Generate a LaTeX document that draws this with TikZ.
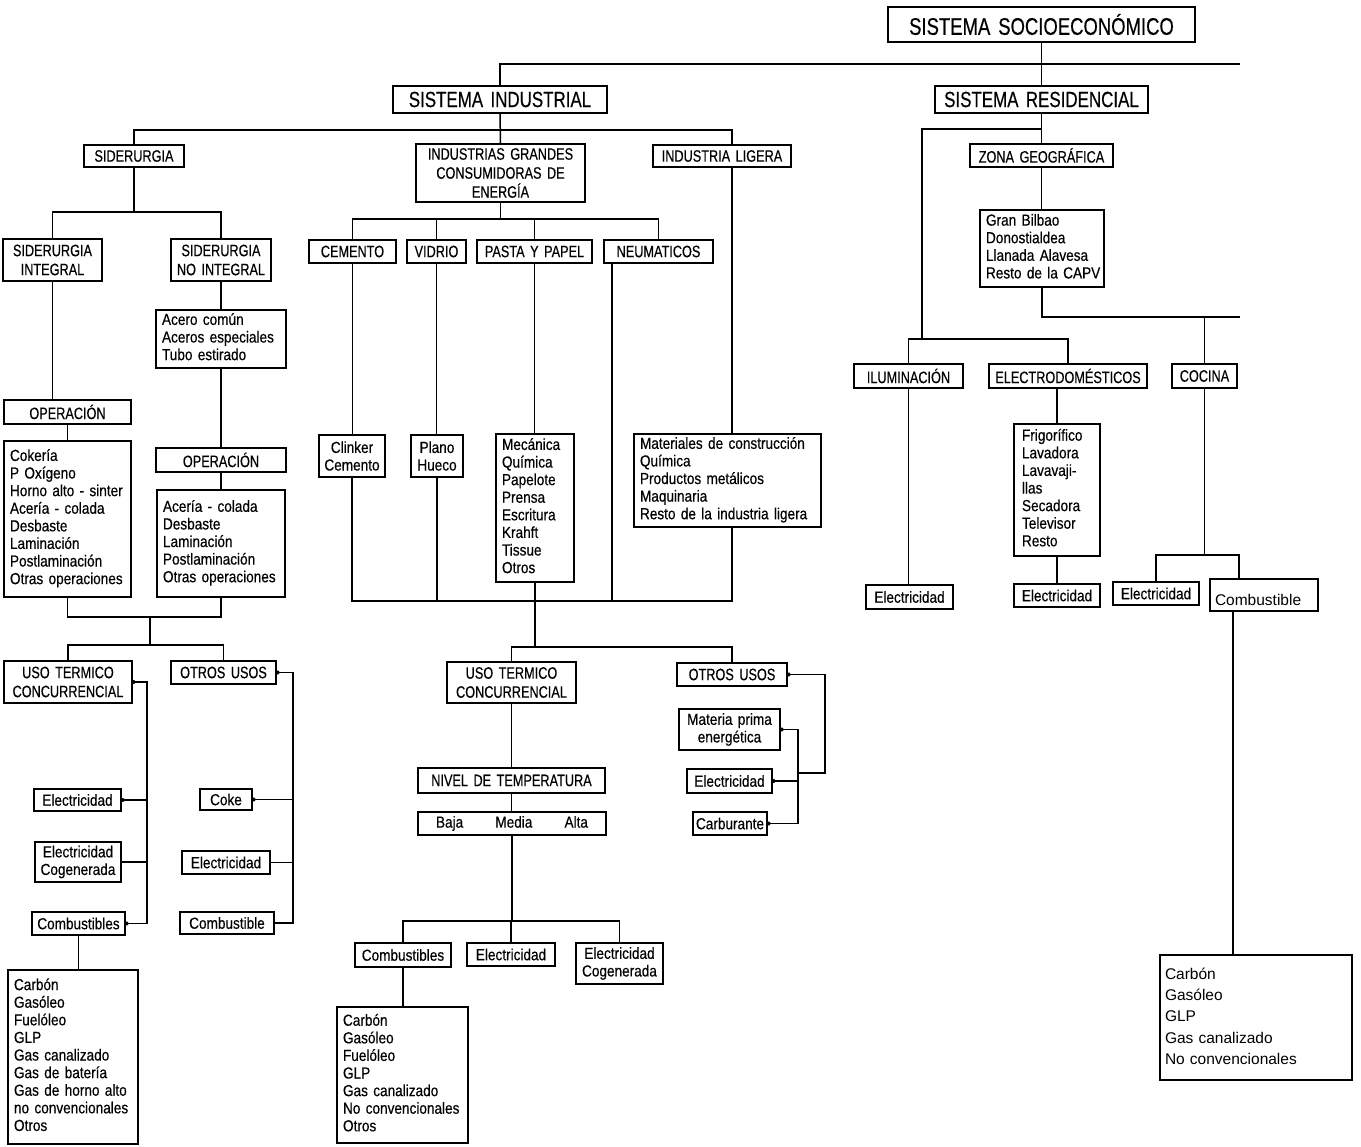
\documentclass[tikz,border=0pt]{standalone}
\usepackage{fontspec}
\setmainfont{Liberation Sans}[FakeStretch=0.85,FakeBold=0.4]
\newfontfamily\capf{Liberation Sans}[FakeStretch=0.77,FakeBold=0.4]
\newfontfamily\arialf{Liberation Sans}
\usetikzlibrary{arrows.meta}

\tikzset{
  wire/.style={line width=1.5pt, line join=miter},
  tbox/.style={draw, line width=1.5pt, inner sep=0pt, outer sep=0pt, align=center,
    font=\fontsize{16}{17.6}\selectfont},
  capsfont/.style={font=\capf\fontsize{16.5}{19}\selectfont},
  lowcase/.style={font=\fontsize{16}{17.6}\selectfont},
  lst/.style={align=left},
  heavy/.style={line width=2.4pt, font=\arialf\fontsize{15.5}{21.3}\selectfont},
  dotstart/.style={{Circle[length=3.8pt]}-},
  dotboth/.style={{Circle[length=3.8pt]}-{Circle[length=3.8pt]}},
}

% box given by its corners: [options]{name}{x1}{y1}{x2}{y2}{text}
\newcommand\boxat[7][]{%
  \node[tbox,capsfont,minimum width={(#5-#3)*1pt},minimum height={(#6-#4)*1pt},
    text width={(#5-#3-6)*1pt},#1] (#2) at ({(#3+#5)/2},{(#4+#6)/2}) {#7};}
% left-aligned list box; the lines never wrap
\newcommand\listat[7][]{%
  \node[tbox,lst,minimum width={(#5-#3)*1pt},minimum height={(#6-#4)*1pt},
    text width={(#5-#3-12)*1pt},#1] (#2) at ({(#3+#5)/2},{(#4+#6)/2})
    {\begin{tabular}{@{}l@{}}#7\end{tabular}};}

\begin{document}
\begin{tikzpicture}[x=1pt,y=-1pt]
\useasboundingbox (0,0) rectangle (1361,1147);

% ---------- top level ----------
\boxat[font=\capf\fontsize{24}{26}\selectfont]{socio}{888}{7}{1195}{42}{SISTEMA SOCIOECONÓMICO}
\boxat[font=\capf\fontsize{22}{24}\selectfont]{ind}{393}{86}{607}{113}{SISTEMA INDUSTRIAL}
\boxat[font=\capf\fontsize{22}{24}\selectfont]{res}{935}{86}{1148}{113}{SISTEMA RESIDENCIAL}

% ---------- industrial system ----------
\boxat{sid}{84}{145}{184}{167}{SIDERURGIA}
\boxat{igce}{416}{144}{585}{202}{INDUSTRIAS GRANDES\\CONSUMIDORAS DE\\ENERGÍA}
\boxat{lig}{653}{145}{791}{167}{INDUSTRIA LIGERA}

% steel
\boxat{sint}{3}{239}{102}{281}{SIDERURGIA\\INTEGRAL}
\boxat{snoint}{171}{239}{271}{281}{SIDERURGIA\\NO INTEGRAL}
\listat{acero}{156}{310}{286}{368}{Acero común\\Aceros especiales\\Tubo estirado}
\boxat{opa}{4}{400}{131}{424}{OPERACIÓN}
\listat{coke}{4}{441}{131}{597}{Cokería\\P Oxígeno\\Horno alto - sinter\\Acería - colada\\Desbaste\\Laminación\\Postlaminación\\Otras operaciones}
\boxat{opb}{156}{448}{286}{472}{OPERACIÓN}
\listat{aceria}{157}{490}{285}{597}{Acería - colada\\Desbaste\\Laminación\\Postlaminación\\Otras operaciones}
\boxat{uta}{4}{661}{132}{703}{USO TERMICO\\CONCURRENCIAL}
\boxat{oua}{171}{661}{276}{684}{OTROS USOS}
\boxat[lowcase]{ela}{34}{789}{121}{811}{Electricidad}
\boxat[lowcase]{eca}{35}{842}{121}{882}{Electricidad\\Cogenerada}
\boxat[lowcase]{cba}{32}{912}{125}{935}{Combustibles}
\listat{carba}{8}{970}{138}{1144}{Carbón\\Gasóleo\\Fuelóleo\\GLP\\Gas canalizado\\Gas de batería\\Gas de horno alto\\no convencionales\\Otros}
\boxat[lowcase]{cokb}{200}{789}{252}{810}{Coke}
\boxat[lowcase]{elb}{182}{851}{270}{874}{Electricidad}
\boxat[lowcase]{cbb}{180}{912}{274}{934}{Combustible}

% energy-intensive industries
\boxat{cem}{309}{240}{396}{263}{CEMENTO}
\boxat{vid}{407}{240}{466}{263}{VIDRIO}
\boxat{pas}{477}{240}{592}{263}{PASTA Y PAPEL}
\boxat{neu}{604}{240}{713}{263}{NEUMATICOS}
\boxat[lowcase]{clk}{319}{435}{385}{477}{Clinker\\Cemento}
\boxat[lowcase]{pla}{411}{435}{463}{477}{Plano\\Hueco}
\listat{mec}{496}{434}{574}{582}{Mecánica\\Química\\Papelote\\Prensa\\Escritura\\Krahft\\Tissue\\Otros}
\listat{mat}{634}{434}{821}{527}{Materiales de construcción\\Química\\Productos metálicos\\Maquinaria\\Resto de la industria ligera}
\boxat{utb}{447}{662}{576}{703}{USO TERMICO\\CONCURRENCIAL}
\boxat{oub}{677}{663}{787}{686}{OTROS USOS}
\boxat{niv}{418}{768}{605}{793}{NIVEL DE TEMPERATURA}
\boxat[lowcase,text width=152pt]{bma}{418}{812}{606}{835}{Baja\hfill Media\hfill Alta}
\boxat[lowcase]{cbc}{355}{943}{451}{967}{Combustibles}
\boxat[lowcase]{elc}{467}{943}{555}{966}{Electricidad}
\boxat[lowcase]{ecc}{576}{943}{663}{984}{Electricidad\\Cogenerada}
\listat{carbc}{337}{1007}{468}{1143}{Carbón\\Gasóleo\\Fuelóleo\\GLP\\Gas canalizado\\No convencionales\\Otros}
\boxat[lowcase]{mp}{679}{709}{780}{750}{Materia prima\\energética}
\boxat[lowcase]{eld}{687}{769}{772}{793}{Electricidad}
\boxat[lowcase]{cbu}{693}{812}{767}{835}{Carburante}

% ---------- residential system ----------
\boxat{zona}{970}{144}{1113}{167}{ZONA GEOGRÁFICA}
\listat{gbil}{980}{210}{1104}{287}{Gran Bilbao\\Donostialdea\\Llanada Alavesa\\Resto de la CAPV}
\boxat{ilu}{854}{364}{963}{388}{ILUMINACIÓN}
\boxat{elec}{989}{364}{1147}{388}{ELECTRODOMÉSTICOS}
\boxat{coc}{1172}{364}{1237}{388}{COCINA}
\listat[text width=70pt]{frig}{1014}{424}{1100}{556}{Frigorífico\\Lavadora\\Lavavaji-\\llas\\Secadora\\Televisor\\Resto}
\boxat[lowcase]{ele}{866}{585}{953}{609}{Electricidad}
\boxat[lowcase]{elf}{1014}{584}{1100}{607}{Electricidad}
\boxat[lowcase]{elg}{1113}{582}{1199}{605}{Electricidad}
\boxat[heavy,align=left,text width=98pt,text height=26pt,text depth=6pt]{comb}{1210}{579}{1318}{611}{Combustible}
\listat[heavy,text width=182pt]{carbd}{1160}{955}{1352}{1080}{Carbón\\Gasóleo\\GLP\\Gas canalizado\\No convencionales}

% ---------- connectors: top level ----------
\coordinate (topend) at (1240,64);
\draw[wire] (socio.south) -- (res.north);
\draw[wire] (ind.north) |- (topend);

% industrial branches
\coordinate (ligx) at (732,130);
\draw[wire] (ind.south) -- (igce.north);
\draw[wire] (sid.north) |- (ligx) -- (ligx |- lig.north);
\draw[wire] (ligx |- lig.south) -- (ligx |- mat.north);

% steel
\coordinate (sidbus) at (0,212);
\draw[wire] (sid.south) -- (sid.south |- sidbus);
\draw[wire] (sint.north) |- (snoint.north |- sidbus) -- (snoint.north);
\draw[wire] (sint.south) -- (sint.south |- opa.north);
\draw[wire] (opa.south) -- (coke.north);
\draw[wire] (snoint.south) -- (acero.north);
\draw[wire] (acero.south) -- (opb.north);
\draw[wire] (opb.south) -- (aceria.north);
\coordinate (sidjoin) at (150,617);
\coordinate (usebus) at (150,645);
\draw[wire] (coke.south) |- (aceria.south |- sidjoin) -- (aceria.south);
\draw[wire] (sidjoin) -- (usebus);
\draw[wire] (uta.north) |- (oua.north |- usebus) -- (oua.north);

\coordinate (utarail) at (147,0);
\draw[wire,dotboth] (uta.east) -| (utarail |- cba.east) -- (cba.east);
\draw[wire,dotstart] (ela.east) -- (ela.east -| utarail);
\draw[wire] (eca.east) -- (eca.east -| utarail);
\draw[wire] (cba.south) -- (cba.south |- carba.north);

\coordinate (ouarail) at (293,0);
\draw[wire,dotstart] (oua.east) -| (ouarail |- cbb.east) -- (cbb.east);
\draw[wire,dotstart] (cokb.east) -- (cokb.east -| ouarail);
\draw[wire] (elb.east) -- (elb.east -| ouarail);

% energy-intensive industries
\coordinate (igbus) at (0,219);
\draw[wire] (igce.south) -- (igce.south |- igbus);
\draw[wire] (cem.north) |- (neu.north |- igbus) -- (neu.north);
\draw[wire] (vid.north) -- (vid.north |- igbus);
\draw[wire] (pas.north) -- (pas.north |- igbus);
\draw[wire] (cem.south) -- (cem.south |- clk.north);
\draw[wire] (vid.south) -- (vid.south |- pla.north);
\draw[wire] (pas.south) -- (pas.south |- mec.north);
\coordinate (neux) at (612,0);
\coordinate (prodbus) at (0,601);
\draw[wire] (clk.south) |- (ligx |- prodbus) -- (ligx |- mat.south);
\draw[wire] (pla.south) -- (pla.south |- prodbus);
\draw[wire] (neux |- neu.south) -- (neux |- prodbus);
\coordinate (usebusb) at (0,647);
\draw[wire] (mec.south) -- (mec.south |- usebusb);
\draw[wire] (utb.north) |- (oub.north |- usebusb) -- (oub.north);
\draw[wire] (utb.south) -- (utb.south |- niv.north);
\draw[wire] (niv.south) -- (niv.south |- bma.north);
\coordinate (fuelbus) at (0,921);
\draw[wire] (bma.south) -- (bma.south |- fuelbus);
\draw[wire] (cbc.north) |- (ecc.north |- fuelbus) -- (ecc.north);
\draw[wire] (elc.north) -- (elc.north |- fuelbus);
\draw[wire] (cbc.south) -- (cbc.south |- carbc.north);

\coordinate (oubrail) at (825,773);
\coordinate (oubtie) at (798,0);
\draw[wire,dotstart] (oub.east) -| (oubrail) -- (oubtie |- oubrail);
\draw[wire,dotboth] (mp.east) -| (oubtie |- cbu.east) -- (cbu.east);
\draw[wire,dotstart] (eld.east) -- (eld.east -| oubtie);

% ---------- residential connectors ----------
\coordinate (resbranch) at (922,129);
\coordinate (resbus) at (0,339);
\draw[wire] (res.south) -- (zona.north);
\draw[wire] (res.south |- resbranch) -- (resbranch) -- (resbranch |- resbus);
\draw[wire] (ilu.north) |- (elec.north |- resbus) -- (elec.north);
\draw[wire] (zona.south) -- (zona.south |- gbil.north);
\coordinate (zoneend) at (1240,317);
\draw[wire] (gbil.south) |- (zoneend);
\draw[wire] (coc.north) -- (coc.north |- zoneend);
\draw[wire] (ilu.south) -- (ilu.south |- ele.north);
\draw[wire] (frig.north) -- (frig.north |- elec.south);
\draw[wire] (frig.south) -- (elf.north);
\coordinate (cocbus) at (0,555);
\coordinate (combx) at (1239,0);
\coordinate (comby) at (1233,0);
\draw[wire] (coc.south) -- (coc.south |- cocbus);
\draw[wire] (elg.north) |- (combx |- cocbus) -- (combx |- comb.north);
\draw[wire] (comby |- comb.south) -- (comby |- carbd.north);
\end{tikzpicture}
\end{document}
